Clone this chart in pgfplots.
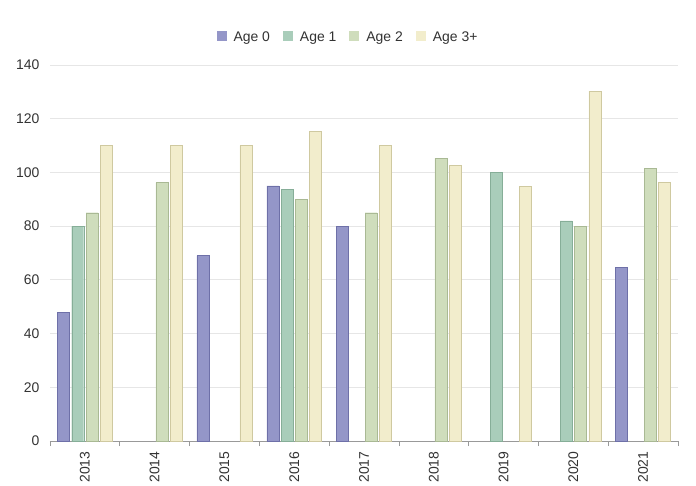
\documentclass[border=0pt]{standalone}
\usepackage{pgfplots}
\pgfplotsset{compat=1.18}
\usepackage{fontspec}
\setmainfont{Liberation Sans}
\definecolor{c0}{HTML}{9496C8}\definecolor{b0}{HTML}{6E70A8}
\definecolor{c1}{HTML}{A9CDBA}\definecolor{b1}{HTML}{86AE98}
\definecolor{c2}{HTML}{CFDDBC}\definecolor{b2}{HTML}{A9B994}
\definecolor{c3}{HTML}{F2EDCC}\definecolor{b3}{HTML}{CFC9A0}
\definecolor{gridc}{HTML}{E6E6E6}
\definecolor{txt}{HTML}{333333}
\begin{document}
\begin{tikzpicture}
\begin{axis}[
  scale only axis, width=628bp, height=376bp,
  ymin=0, ymax=140, ytick={0,20,...,140},
  xmin=-0.5, xmax=8.5,
  ybar=2.3bp, bar width=12bp,
  xtick={0,...,8},
  xticklabels={2013,2014,2015,2016,2017,2018,2019,2020,2021},
  minor xtick={-0.5,0.5,...,8.5},
  major x tick style={draw=none},
  minor x tick style={draw=gray!80, line width=0.6pt},
  major y tick style={draw=none},
  tick align=outside,
  minor tick length=5bp,
  major tick length=0pt,
  x tick label style={rotate=90, anchor=east, font=\fontsize{14}{16}\selectfont, text=txt},
  xticklabel shift=7bp,
  y tick label style={font=\fontsize{14}{16}\selectfont, text=txt},
  yticklabel shift=7bp,
  /pgf/number format/assume math mode=true,
  ymajorgrids, grid style={gridc, line width=0.8pt},
  axis x line*=bottom,
  axis y line*=left,
  y axis line style={draw=none},
  x axis line style={draw=gray!80, line width=0.6pt, -},
  legend style={at={(0.4745,1)}, anchor=center, yshift=28bp, draw=none, legend columns=4,
    font=\fontsize{14}{16}\selectfont, text=txt,
    /tikz/every odd column/.append style={column sep=5bp},
    /tikz/every even column/.append style={column sep=11bp}},
  legend image code/.code={\fill[#1, draw=none] (0bp,-4.5bp) rectangle (10bp,5.5bp);},
  clip=false,
]
\addplot[fill=c0, draw=b0] coordinates {(0,48) (2,69) (3,95) (4,80) (8,64.6)};
\addplot[fill=c1, draw=b1] coordinates {(0,80) (3,93.6) (6,100) (7,82)};
\addplot[fill=c2, draw=b2] coordinates {(0,85) (1,96.2) (3,90) (4,85) (5,105.2) (7,80) (8,101.6)};
\addplot[fill=c3, draw=b3] coordinates {(0,110) (1,110) (2,110) (3,115.2) (4,110) (5,102.6) (6,94.9) (7,130.3) (8,96.3)};
\legend{Age 0, Age 1, Age 2, Age 3+}
\coordinate (bl) at (rel axis cs:0,0);
\end{axis}
\path ([shift={(-50bp,-45bp)}]bl) rectangle ([shift={(646bp,441bp)}]bl);
\end{tikzpicture}
\end{document}
